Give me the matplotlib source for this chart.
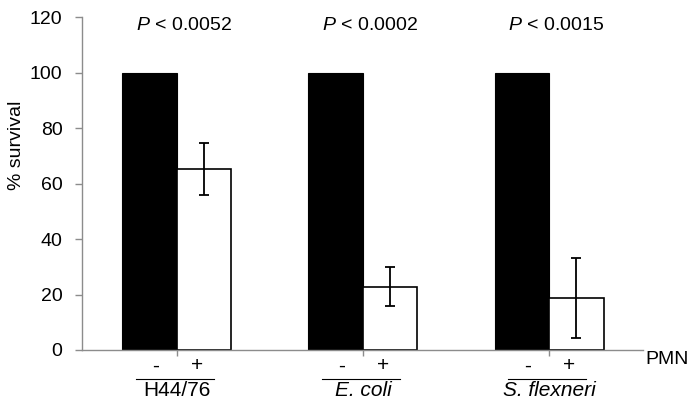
import numpy as np
import matplotlib
matplotlib.use("Agg")
import matplotlib.pyplot as plt
from matplotlib import transforms

plt.rcParams['font.family'] = ['Liberation Sans', 'DejaVu Sans']
plt.rcParams['mathtext.fontset'] = 'custom'
plt.rcParams['mathtext.rm'] = 'Liberation Sans'
plt.rcParams['mathtext.it'] = 'Liberation Sans:italic'

# data
groups = ['H44/76', 'E. coli', 'S. flexneri']
group_italic = [False, True, True]
without_pmn = [100, 100, 100]
with_pmn = [65.3, 22.8, 18.6]
err_low = [9.4, 6.9, 14.4]
err_high = [9.4, 7.2, 14.7]
p_values = ['0.0052', '0.0002', '0.0015']

fig = plt.figure(figsize=(6.95, 4.11), dpi=100)
ax = fig.add_axes([82 / 695, 1 - 350 / 411, 561 / 695, 333 / 411])

x = np.arange(len(groups))
w = 0.293

ax.bar(x - w / 2, without_pmn, width=w, color='black', edgecolor='black', linewidth=0.8)
ax.bar(x + w / 2, with_pmn, width=w, color='white', edgecolor='black', linewidth=1.2)
ax.errorbar(x + w / 2, with_pmn, yerr=[err_low, err_high], fmt='none',
            ecolor='black', elinewidth=1.3, capsize=3.5, capthick=1.3)

ax.set_xlim(-0.51, 2.505)
ax.set_ylim(0, 120)
ax.set_yticks(np.arange(0, 121, 20))
ax.set_xticks(x)
ax.set_xticklabels([])
ax.set_ylabel('% survival', fontsize=14)
ax.yaxis.set_label_coords(-0.1016, 0.616)

gray = '#8c8c8c'
for side in ['top', 'right']:
    ax.spines[side].set_visible(False)
for side in ['left', 'bottom']:
    ax.spines[side].set_color(gray)
    ax.spines[side].set_linewidth(1.0)
ax.tick_params(axis='both', colors=gray, length=5, width=1.0, labelcolor='black', labelsize=14)
ax.tick_params(axis='y', pad=9)
ax.tick_params(axis='x', length=4)

# P values above groups
for i, p in enumerate(p_values):
    ax.text(x[i] + 0.04, 117, r'$\mathit{P}$' + ' < ' + p, ha='center', va='center', fontsize=14)

# PMN -/+ labels, group lines and group names
trans = transforms.blended_transform_factory(ax.transData, ax.transAxes)
for i, g in enumerate(groups):
    ax.text(x[i] - 0.113, -0.048, '-', transform=trans, ha='center', va='center', fontsize=15, clip_on=False)
    ax.text(x[i] + 0.11, -0.048, '+', transform=trans, ha='center', va='center', fontsize=15, clip_on=False)
    ax.plot([x[i] - 0.22, x[i] + 0.2], [-0.086, -0.086], transform=trans, color='black',
            linewidth=0.8, clip_on=False)
    ax.text(x[i], -0.122, g, transform=trans, ha='center', va='center', fontsize=15,
            style='italic' if group_italic[i] else 'normal', clip_on=False)

ax.text(1.004, -0.03, 'PMN', transform=ax.transAxes, ha='left', va='center', fontsize=14, clip_on=False)

fig.savefig('out.png', dpi=100)
